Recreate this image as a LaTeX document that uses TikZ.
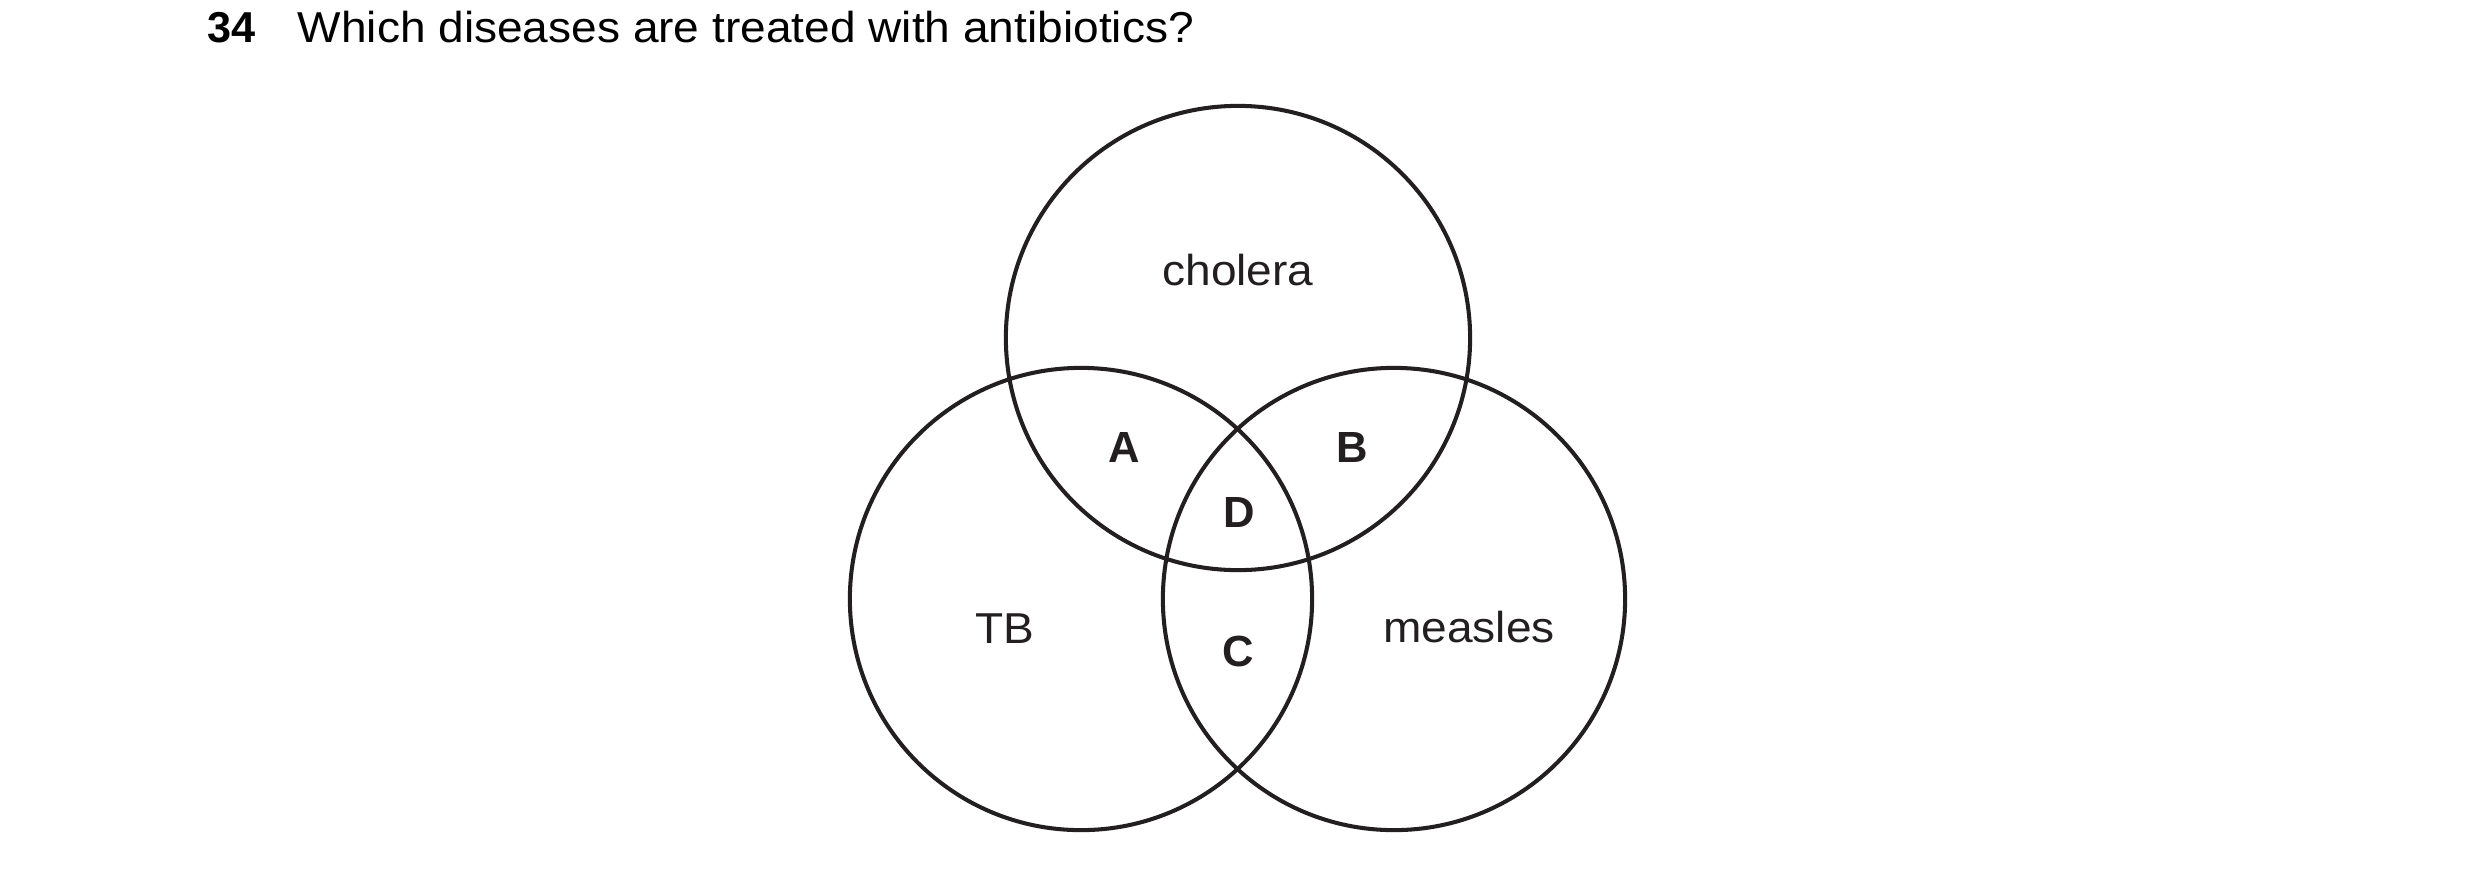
\documentclass[tikz,border=0pt]{standalone}
\usepackage{fontspec}
\setmainfont{Liberation Sans}
\newfontfamily\widefont[FakeStretch=1.065]{Liberation Sans}
\definecolor{ink}{HTML}{231F20}
\begin{document}
\begin{tikzpicture}[x=0.01cm,y=-0.01cm,
  ring/.style={draw=ink,line width=1.15pt,circle,inner sep=0pt},
  lbl/.style={inner sep=0pt,anchor=base,text=ink,font=\fontsize{12.3}{14}\widefont},
  blbl/.style={inner sep=0pt,anchor=base,text=ink,font=\fontsize{12.4}{14}\selectfont\bfseries},
  ttl/.style={inner sep=0pt,anchor=base west,font=\fontsize{12.3}{14}\widefont}]
\useasboundingbox (0,0) rectangle (2480,872);
\node[ttl,font=\fontsize{12.3}{14}\selectfont\bfseries] (num) at (207,42) {34};
\node[ttl] (q) at (297,42) {Which diseases are treated with antibiotics?};
\node[ring,minimum size=4.64cm] (chol) at (1238,338) {};
\node[ring,minimum size=4.62cm] (tb) at (1081,599) {};
\node[ring,minimum size=4.62cm] (mea) at (1394,599) {};
\node[lbl] (tcholera) at (1238,285) {cholera};
\node[lbl] (ttb) at (1005,643) {TB};
\node[lbl] (tmea) at (1469,642) {measles};
\node[blbl] (la) at (1124,462) {A};
\node[blbl] (lb) at (1352,462) {B};
\node[blbl] (ld) at (1239,527) {D};
\node[blbl] (lc) at (1238,666) {C};
\end{tikzpicture}
\end{document}
